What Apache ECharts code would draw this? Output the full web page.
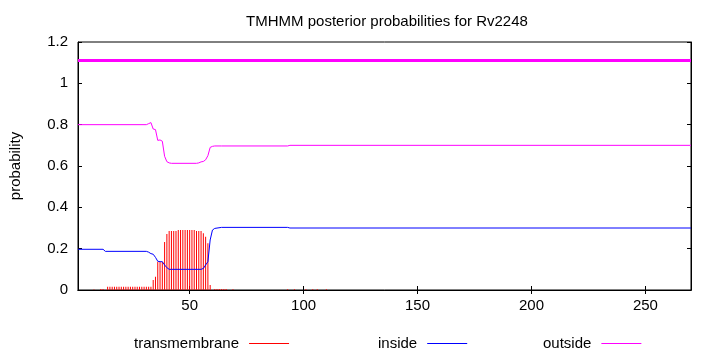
<!DOCTYPE html>
<html>
<head>
<meta charset="utf-8">
<script src="https://cdn.jsdelivr.net/npm/echarts@6/dist/echarts.min.js"></script>
<style>
  html, body { margin: 0; padding: 0; background: #fff; }
  #chart { width: 710px; height: 350px; }
</style>
</head>
<body>
<div id="chart"></div>
<script>
var titleText = 'TMHMM posterior probabilities for Rv2248';
var seqLen = 270;
var xTicks = [50, 100, 150, 200, 250];

// transmembrane posterior (impulses), [residue, prob]
var tmPos = [8, 11, 12, 14, 15, 16, 17, 18, 19, 20, 21, 22, 23, 24, 25, 26, 27, 28, 29, 30, 31, 32, 33,
  34, 35, 36, 37, 38, 39, 40, 41, 42, 43, 44, 45, 46, 47, 48, 49, 50, 51, 52, 53, 54, 55, 56, 57, 58, 59,
  61, 62, 63, 64, 65, 66, 69, 93, 96, 101, 104, 106, 110];
var tmVal = [0.003, 0.005, 0.005, 0.016, 0.016, 0.016, 0.016, 0.016, 0.016, 0.016, 0.016, 0.016, 0.016, 0.016, 0.016, 0.016, 0.016, 0.016, 0.016, 0.016, 0.016, 0.016, 0.016,
  0.048, 0.064, 0.137, 0.137, 0.137, 0.232, 0.271, 0.285, 0.285, 0.285, 0.285, 0.29, 0.29, 0.29, 0.29, 0.29, 0.29, 0.29, 0.29, 0.285, 0.285, 0.285, 0.274, 0.258, 0.226, 0.024,
  0.005, 0.005, 0.005, 0.005, 0.005, 0.005, 0.004, 0.004, 0.004, 0.004, 0.004, 0.004, 0.004];

// inside posterior
var inPos = [1, 12, 13, 31, 32, 33, 34, 35, 36, 37, 38, 39, 40, 41, 42, 55, 56, 57, 58, 59, 60, 61, 64, 93, 94, 270];
var inVal = [0.197, 0.197, 0.187, 0.187, 0.183, 0.176, 0.173, 0.158, 0.139, 0.137, 0.137, 0.121, 0.108, 0.10, 0.10, 0.10, 0.104, 0.121, 0.137, 0.242, 0.29, 0.298, 0.303, 0.303, 0.30, 0.30];

// outside posterior
var outPos = [1, 31, 32, 33, 34, 35, 36, 37, 38, 39, 40, 41, 42, 53, 54, 55, 56, 57, 58, 59, 60, 61, 64, 93, 94, 270];
var outVal = [0.80, 0.80, 0.805, 0.81, 0.779, 0.776, 0.724, 0.726, 0.72, 0.647, 0.621, 0.615, 0.613, 0.613, 0.615, 0.62, 0.622, 0.63, 0.65, 0.69, 0.695, 0.697, 0.697, 0.697, 0.70, 0.70];

// predicted topology bar (outside, whole sequence)
var topoStart = 1, topoEnd = 270, topoLevel = 1.11;

function pairs(xs, ys) {
  var out = [];
  for (var i = 0; i < xs.length; i++) out.push([xs[i], ys[i]]);
  return out;
}

var font = 'Liberation Sans, Arial, sans-serif';
var chart = echarts.init(document.getElementById('chart'), null, { renderer: 'canvas' });

function legendAt(name, left) {
  return {
    data: [name], left: left, top: 331, align: 'right',
    icon: 'rect', itemWidth: 40, itemHeight: 1,
    selectedMode: false,
    textStyle: { fontFamily: font, fontSize: 15, color: '#000', padding: [0, 5, 0, 0] }
  };
}

var option = {
  backgroundColor: '#fff',
  animation: false,
  title: {
    text: titleText, left: 382, top: 9, textAlign: 'center',
    textStyle: { fontFamily: font, fontSize: 15, fontWeight: 'normal', color: '#000' }
  },
  legend: [legendAt('transmembrane', 129), legendAt('inside', 373), legendAt('outside', 538)],
  grid: { left: 73, right: 19, top: 42, bottom: 60, show: true, borderColor: '#000', borderWidth: 1, backgroundColor: 'transparent' },
  xAxis: [{
    type: 'value', min: 1, max: seqLen, position: 'bottom',
    axisLine: { show: true, lineStyle: { color: '#000' } },
    axisTick: { show: true, inside: true, length: 4, customValues: xTicks, lineStyle: { color: '#000' } },
    axisLabel: { customValues: xTicks, margin: 8, fontFamily: font, fontSize: 15, color: '#000' },
    splitLine: { show: false }
  }, {
    type: 'value', min: 1, max: seqLen, position: 'top',
    axisLine: { show: true, lineStyle: { color: '#000' } },
    axisTick: { show: true, inside: true, length: 4, customValues: xTicks, lineStyle: { color: '#000' } },
    axisLabel: { show: false },
    splitLine: { show: false }
  }],
  yAxis: [{
    type: 'value', min: 0, max: 1.2, interval: 0.2, position: 'left',
    name: 'probability', nameLocation: 'middle', nameGap: 55,
    nameTextStyle: { fontFamily: font, fontSize: 15, color: '#000' },
    axisLine: { show: true, lineStyle: { color: '#000' } },
    axisTick: { show: true, inside: true, length: 4, lineStyle: { color: '#000' } },
    axisLabel: { margin: 10, fontFamily: font, fontSize: 15, color: '#000' },
    splitLine: { show: false }
  }, {
    type: 'value', min: 0, max: 1.2, interval: 0.2, position: 'right',
    axisLine: { show: true, lineStyle: { color: '#000' } },
    axisTick: { show: true, inside: true, length: 4, lineStyle: { color: '#000' } },
    axisLabel: { show: false },
    splitLine: { show: false }
  }],
  series: [
    {
      name: 'transmembrane', type: 'bar', barWidth: 1, barGap: 0,
      itemStyle: { color: '#ff0000' },
      data: pairs(tmPos, tmVal)
    },
    {
      name: 'inside', type: 'line', showSymbol: false, symbol: 'none',
      itemStyle: { color: '#0000ff' },
      lineStyle: { color: '#0000ff', width: 1 },
      data: pairs(inPos, inVal)
    },
    {
      name: 'outside', type: 'line', showSymbol: false, symbol: 'none',
      itemStyle: { color: '#ff00ff' },
      lineStyle: { color: '#ff00ff', width: 1 },
      data: pairs(outPos, outVal)
    },
    {
      name: 'topology', type: 'line', showSymbol: false, symbol: 'none',
      lineStyle: { color: '#ff00ff', width: 3 },
      data: [[topoStart, topoLevel], [topoEnd, topoLevel]]
    }
  ]
};
chart.setOption(option);
</script>
</body>
</html>
